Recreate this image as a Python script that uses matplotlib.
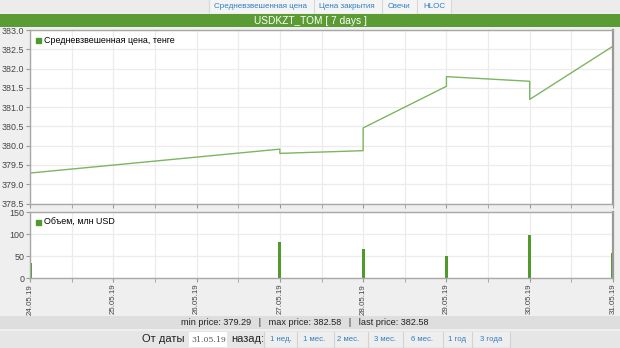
import pandas as pd
import numpy as np
import matplotlib.pyplot as plt
import matplotlib.dates as mdates
from matplotlib.patches import Rectangle, Patch

plt.rcParams['font.family'] = ['Liberation Sans', 'DejaVu Sans']

# data
day_labels = ['24.05.19', '25.05.19', '26.05.19', '27.05.19',
              '28.05.19', '29.05.19', '30.05.19', '31.05.19']
price_time = ['2019-05-24', '2019-05-27', '2019-05-27', '2019-05-28', '2019-05-28',
              '2019-05-29', '2019-05-29', '2019-05-30', '2019-05-30', '2019-05-31']
price = [379.29, 379.91, 379.80, 379.87, 380.46, 381.54, 381.79, 381.67, 381.20, 382.58]
vol_time = ['2019-05-24', '2019-05-27', '2019-05-28', '2019-05-29', '2019-05-30', '2019-05-31']
volume = [35, 81, 66, 51, 97, 57]

tabs = ['Средневзвешенная цена', 'Цена закрытия', 'Свечи', 'HLOC']
periods = ['1 нед.', '1 мес.', '2 мес.', '3 мес.', '6 мес.', '1 год', '3 года']

pt = pd.to_datetime(price_time)
vt = pd.to_datetime(vol_time)
days = pd.to_datetime(day_labels, format='%d.%m.%y')

W, H = 620, 348
fig = plt.figure(figsize=(W / 100, H / 100), dpi=100)
fig.patch.set_facecolor('#efefef')

def fx(x):
    return x / W

def fy(y):
    return 1 - y / H

def box(x0, y0, x1, y1, color):
    fig.add_artist(Rectangle((fx(x0), fy(y1)), fx(x1 - x0), (y1 - y0) / H,
                             transform=fig.transFigure, facecolor=color,
                             edgecolor='none', zorder=-1))

def vline(x, y0, y1, color):
    fig.add_artist(plt.Line2D([fx(x), fx(x)], [fy(y0), fy(y1)],
                              transform=fig.transFigure, color=color, lw=0.8))

# header
box(0, 0, W, 13, '#ececec')
box(209, 0, 451, 13, '#f4f4f4')
for sx in [209, 314, 382, 417, 451]:
    vline(sx, 0, 13, '#d8d8d8')
for t, x in zip(tabs, [261, 347, 399, 434]):
    fig.text(fx(x), fy(6.5), t, ha='center', va='center', fontsize=5.8, color='#2f7fc1')
box(0, 14, W, 27, '#5a9b33')
fig.text(fx(310), fy(20.5), 'USDKZT_TOM [ 7 days ]', ha='center', va='center',
         fontsize=7.3, color='white')

line_color = '#7db562'
bar_color = '#4f9a2b'
grid_color = '#ececec'

def style(ax):
    ax.set_facecolor('white')
    for s in ax.spines.values():
        s.set_color('#a8a8a8')
        s.set_linewidth(1)
    ax.spines['right'].set_linewidth(1.6)
    ax.spines['right'].set_color('#999999')
    ax.set_xlim(days[0], days[-1])
    ax.xaxis.set_major_locator(mdates.DayLocator())
    ax.xaxis.set_minor_locator(mdates.HourLocator(byhour=[12]))
    ax.grid(True, which='both', color=grid_color, lw=0.9)
    ax.set_axisbelow(True)
    ax.tick_params(which='both', length=3, color='#999999', labelsize=6.4,
                   labelcolor='#444444', pad=1.2)

def legend(ax, label):
    ax.legend(handles=[Patch(color=bar_color, label=label)],
              loc='upper left', frameon=False, fontsize=6.4, handlelength=0.5,
              handleheight=0.5, handletextpad=0.4, borderaxespad=0.3,
              bbox_to_anchor=(0.0, 1.0))

ax1 = fig.add_axes([fx(30), fy(203.5), fx(583), 173.5 / H])
style(ax1)
ax1.plot(pt, price, color=line_color, lw=1)
ax1.set_ylim(378.5, 383.0)
ax1.set_yticks(np.arange(378.5, 383.01, 0.5))
ax1.yaxis.set_major_formatter(plt.FormatStrFormatter('%.1f'))
ax1.tick_params(axis='x', labelbottom=False)
legend(ax1, 'Средневзвешенная цена, тенге')

ax2 = fig.add_axes([fx(30), fy(278.3), fx(583), 66.3 / H])
style(ax2)
ax2.bar(vt, volume, width=0.038, color=bar_color)
ax2.set_ylim(0, 150)
ax2.set_yticks([0, 50, 100, 150])
ax2.set_xticks(days)
ax2.set_xticklabels(day_labels, rotation=90)
ax2.tick_params(axis='x', labelsize=5.7, pad=1)
legend(ax2, 'Объем, млн USD')

# stats bar
box(0, 316, W, 329, '#dedede')
stats = 'min price: %.2f   |   max price: %.2f   |   last price: %.2f' % (
    min(price), max(price), price[-1])
fig.text(fx(305), fy(322.5), stats, ha='center', va='center', fontsize=6.6, color='#222222')

# bottom controls
box(0, 331, W, H, '#e6e6e6')
fig.text(fx(185), fy(339.5), 'От даты', ha='right', va='center', fontsize=8, color='#222222')
box(189, 332, 227, 347, 'white')
fig.text(fx(191), fy(339.5), '31.05.19', ha='left', va='center', fontsize=5.6,
         color='#555555', family='DejaVu Serif')
fig.text(fx(231), fy(339.5), 'назад:', ha='left', va='center', fontsize=8, color='#222222')
box(264, 332, 510, 347, '#eeeeee')
for sx in [264, 297, 334, 368, 403, 443, 472, 510]:
    vline(sx, 332, 347, '#d2d2d2')
for p, x in zip(periods, [281, 314, 348, 385, 422, 457, 491]):
    fig.text(fx(x), fy(339.5), p, ha='center', va='center', fontsize=5.6, color='#2f7fc1')

fig.savefig('out.png', dpi=100, facecolor=fig.get_facecolor())
